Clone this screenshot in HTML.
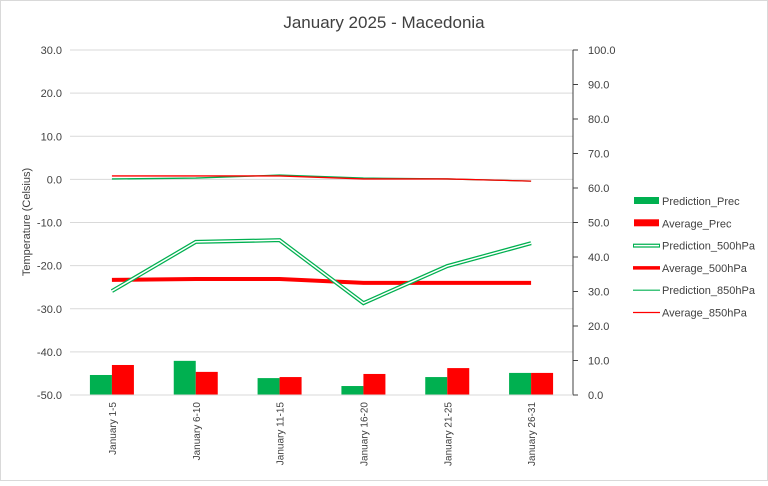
<!DOCTYPE html>
<html><head><meta charset="utf-8"><style>
body{margin:0;background:#fff;font-family:"Liberation Sans",sans-serif}
svg text{font-family:"Liberation Sans",sans-serif}
</style></head><body>
<svg id="c" width="768" height="481">
<rect x="0.5" y="0.5" width="767" height="480" fill="#fff" stroke="#d9d9d9"/>
<text x="384" y="28" text-anchor="middle" font-size="17" fill="#404040">January 2025 - Macedonia</text>
<text transform="translate(30,222) rotate(-90)" text-anchor="middle" font-size="11" fill="#404040">Temperature (Celsius)</text>
<g id="g"></g>
</svg>
<script>
const categories=["January 1-5","January 6-10","January 11-15","January 16-20","January 21-25","January 26-31"];
const predPrec=[5.8,9.9,4.9,2.6,5.2,6.4];
const avgPrec=[8.7,6.7,5.2,6.1,7.8,6.4];
const pred500=[-25.9,-14.5,-14.1,-28.7,-20.1,-14.8];
const avg500=[-23.3,-23.1,-23.1,-24.0,-24.0,-24.0];
const pred850=[0.1,0.3,1.0,0.3,0.1,-0.4];
const avg850=[0.8,0.8,0.8,0.1,0.1,-0.4];
const leftTicks=["30.0","20.0","10.0","0.0","-10.0","-20.0","-30.0","-40.0","-50.0"];
const rightTicks=["100.0","90.0","80.0","70.0","60.0","50.0","40.0","30.0","20.0","10.0","0.0"];
const NS="http://www.w3.org/2000/svg",g=document.getElementById('g');
const X0=70,X1=573,Y0=50,Y1=395,bw=(X1-X0)/categories.length;
const yL=v=>Y1-(v+50)/80*(Y1-Y0), yR=v=>Y1-v/100*(Y1-Y0), xC=i=>X0+bw*(i+0.5);
function el(t,a,txt){const e=document.createElementNS(NS,t);for(const k in a)e.setAttribute(k,a[k]);if(txt!=null)e.textContent=txt;g.appendChild(e);return e;}
leftTicks.forEach((t,i)=>{const y=yL(+t);
 const l=el('line',{x1:X0,x2:X1,y1:y,y2:y,stroke:'#d9d9d9'});
 
 const tx=el('text',{x:62,y:y+4,'text-anchor':'end','font-size':11,fill:'#404040'},t);
 });
const ax=el('line',{x1:X1,x2:X1,y1:Y0,y2:Y1,stroke:'#404040'});

rightTicks.forEach(t=>{const y=yR(+t);
 el('line',{x1:X1,x2:X1+5,y1:y,y2:y,stroke:'#404040'});
 const tx=el('text',{x:588,y:y+4,'font-size':11,fill:'#404040'},t);
 });
categories.forEach((c,i)=>{
 const b1=el('rect',{x:xC(i)-22,y:yR(predPrec[i]),width:22,height:Y1-yR(predPrec[i]),fill:'#00b050'});
 
 const b2=el('rect',{x:xC(i),y:yR(avgPrec[i]),width:22,height:Y1-yR(avgPrec[i]),fill:'#ff0000'});
 
 const tx=el('text',{transform:`translate(${xC(i)+4},402) rotate(-90)`,'text-anchor':'end','font-size':10,fill:'#404040'},c);
 });
const bx=el('line',{x1:X0,x2:X1,y1:Y1,y2:Y1,stroke:'#d9d9d9'});
function pts(a){return a.map((v,i)=>xC(i)+','+yL(v)).join(' ');}
let p;
p=el('polyline',{points:pts(avg500),fill:'none',stroke:'#ff0000','stroke-width':4});
p=el('polyline',{points:pts(pred500),fill:'none',stroke:'#00b050','stroke-width':4});
el('polyline',{points:pts(pred500),fill:'none',stroke:'#fff','stroke-width':1.5});
p=el('polyline',{points:pts(pred850),fill:'none',stroke:'#00b050','stroke-width':1.3});
p=el('polyline',{points:pts(avg850),fill:'none',stroke:'#ff0000','stroke-width':1.3});
const leg=[["Prediction_Prec","bar","#00b050"],["Average_Prec","bar","#ff0000"],["Prediction_500hPa","dbl","#00b050"],["Average_500hPa","thick","#ff0000"],["Prediction_850hPa","thin","#00b050"],["Average_850hPa","thin","#ff0000"]];
leg.forEach((l,i)=>{const y=201+i*22.3;
 if(l[1]=='bar')el('rect',{x:634,y:y-4,width:25,height:7,fill:l[2]});
 else if(l[1]=='dbl'){el('line',{x1:633,x2:660,y1:y,y2:y,stroke:l[2],'stroke-width':4});el('line',{x1:634,x2:659,y1:y,y2:y,stroke:'#fff','stroke-width':1.5});}
 else el('line',{x1:633,x2:660,y1:y,y2:y,stroke:l[2],'stroke-width':l[1]=='thick'?3.5:1.2});
 const tx=el('text',{x:662,y:y+4,'font-size':11,fill:'#404040'},l[0]);
 });
</script>
</body></html>
